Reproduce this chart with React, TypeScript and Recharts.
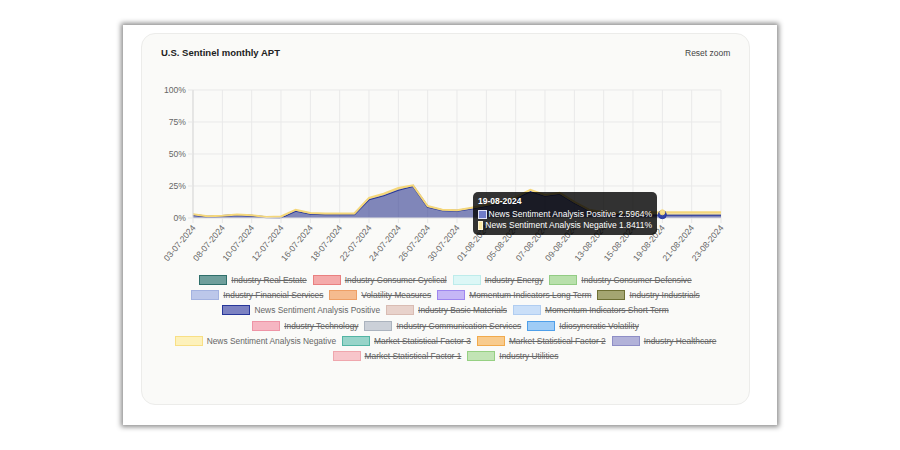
import React from 'react';
import { AreaChart, Area, XAxis, YAxis, CartesianGrid, Tooltip, Legend } from 'recharts';

const dates = ['03-07-2024','05-07-2024','08-07-2024','09-07-2024','10-07-2024','11-07-2024','12-07-2024','15-07-2024','16-07-2024','17-07-2024','18-07-2024','19-07-2024','22-07-2024','23-07-2024','24-07-2024','25-07-2024','26-07-2024','29-07-2024','30-07-2024','31-07-2024','01-08-2024','02-08-2024','05-08-2024','06-08-2024','07-08-2024','08-08-2024','09-08-2024','12-08-2024','13-08-2024','14-08-2024','15-08-2024','16-08-2024','19-08-2024','20-08-2024','21-08-2024','22-08-2024','23-08-2024'];

const tickDates = ['03-07-2024','08-07-2024','10-07-2024','12-07-2024','16-07-2024','18-07-2024','22-07-2024','24-07-2024','26-07-2024','30-07-2024','01-08-2024','05-08-2024','07-08-2024','09-08-2024','13-08-2024','15-08-2024','19-08-2024','21-08-2024','23-08-2024'];

const positive = [2.6,1.0,1.5,2.4,1.8,0.5,0.4,5.6,3.4,3.0,3.0,3.0,14.6,17.8,22.0,25.0,8.7,6.0,5.6,7.5,9.6,12.0,15.5,21.0,17.4,19.0,12.0,6.0,4.0,3.2,2.9,2.7,2.5964,2.6,2.6,2.6,2.6];
const negative = [0.4,0.3,0.3,0.3,0.3,0.2,0.8,0.9,0.5,0.6,0.6,0.6,1.2,1.2,1.4,0.5,0.6,0.5,0.4,0.5,0.5,0.6,0.8,1.0,0.6,0.6,0.6,0.5,0.5,0.5,0.5,1.5,1.8411,1.8,1.8,1.8,1.8];

const yTicks = [0, 25, 50, 75, 100];

const POS = 'News Sentiment Analysis Positive';
const NEG = 'News Sentiment Analysis Negative';

const legendNames = ['Industry Real Estate','Industry Consumer Cyclical','Industry Energy','Industry Consumer Defensive','Industry Financial Services','Volatility Measures','Momentum Indicators Long Term','Industry Industrials',POS,'Industry Basic Materials','Momentum Indicators Short Term','Industry Technology','Industry Communication Services','Idiosyncratic Volatility',NEG,'Market Statistical Factor 3','Market Statistical Factor 2','Industry Healthcare','Market Statistical Factor 1','Industry Utilities'];
const legendFills = ['#6f9f9c','#f4aaaa','#dcf7f6','#b8e0ab','#bcc7ea','#f5bb8f','#c5b6f6','#a4a672','#7c82c2','#e8d2cb','#cadff8','#f6b6c2','#cbd0d8','#9fccf6','#fdf1bb','#98d4c9','#f8cb8d','#b2b2d9','#f7c5ca','#c2e4b5'];
const legendStrokes = ['#2f6f6b','#e98080','#bdeceb','#92cc84','#a3b2e0','#ee9f66','#9e86ef','#6e7034','#27379a','#d9bcb3','#b0cdf1','#ee94a6','#abb3be','#4f9fe9','#f8df85','#53b5a4','#f1aa4c','#8e8ec6','#efa6ad','#96d083'];
const visibleSeries = [POS, NEG];
const legendRowSizes = [4, 4, 3, 3, 4, 2];

const data = dates.map((d, i) => ({ date: d, pos: positive[i], neg: negative[i] }));

const FONT = '"Liberation Sans", Arial, Helvetica, sans-serif';

const XTick = (props: any) => {
  const { x, y, payload } = props;
  const ax = x + 3;
  const ay = y + 3;
  return (
    <text x={ax} y={ay} transform={`rotate(-50 ${ax} ${ay})`} textAnchor="end" fontSize={8.6} fill="#666" fontFamily={FONT}>
      {payload.value}
    </text>
  );
};

const TooltipBox = (props: any) => {
  const { active, payload, label } = props;
  if (!active || !payload || !payload.length) return null;
  const sq: Record<string, [string, string]> = { pos: ['#6f7cc8', '#dfe2f5'], neg: ['#fbe9a6', '#fff6d6'] };
  return (
    <div style={{ background: 'rgba(0,0,0,0.8)', borderRadius: 5, padding: '4px 5px', color: '#fff', fontFamily: FONT, fontSize: 8.5, width: 184, boxSizing: 'border-box' }}>
      <div style={{ fontWeight: 'bold', lineHeight: '10px', marginBottom: 3 }}>{label}</div>
      {payload.map((p: any) => (
        <div key={p.dataKey} style={{ display: 'flex', alignItems: 'center', lineHeight: '11px', whiteSpace: 'nowrap' }}>
          <span style={{ display: 'inline-block', width: 7, height: 7, background: sq[p.dataKey][0], border: `1px solid ${sq[p.dataKey][1]}`, marginRight: 2 }} />
          <span>{p.name} {Number(p.value).toFixed(4)}%</span>
        </div>
      ))}
    </div>
  );
};

const renderLegend = () => {
  const rows: number[][] = [];
  let k = 0;
  legendRowSizes.forEach((n) => {
    const r: number[] = [];
    for (let j = 0; j < n; j++) r.push(k++);
    rows.push(r);
  });
  return (
    <div style={{ width: 609, fontFamily: FONT, fontSize: 8.4, color: '#666' }}>
      {rows.map((r, ri) => (
        <div key={ri} style={{ display: 'flex', justifyContent: 'center', alignItems: 'center', height: 15.3 }}>
          {r.map((idx) => {
            const name = legendNames[idx];
            const hidden = !visibleSeries.includes(name);
            return (
              <div key={name} style={{ display: 'flex', alignItems: 'center', margin: '0 3px' }}>
                <span style={{ display: 'inline-block', width: 26, height: 8, background: legendFills[idx], border: `1.5px solid ${legendStrokes[idx]}`, marginRight: 4 }} />
                <span style={{ textDecoration: hidden ? 'line-through' : 'none', whiteSpace: 'nowrap' }}>{name}</span>
              </div>
            );
          })}
        </div>
      ))}
    </div>
  );
};

export default function App() {
  return (
    <div style={{ position: 'fixed', left: 0, top: 0, width: 900, height: 450, background: '#ffffff', overflow: 'hidden' }}>
      <div style={{ position: 'absolute', left: 123, top: 25, width: 654, height: 400, background: '#ffffff', boxShadow: '0 0 5px 2px rgba(0,0,0,0.45)' }} />
      <div style={{ position: 'absolute', left: 141, top: 33, width: 607, height: 370, background: '#fafaf8', border: '1px solid #ececea', borderRadius: 14 }} />
      <div style={{ position: 'absolute', left: 161, top: 46, fontFamily: FONT, fontWeight: 'bold', fontSize: 9.5, color: '#222', lineHeight: '14px' }}>U.S. Sentinel monthly APT</div>
      <div style={{ position: 'absolute', left: 685, top: 47, fontFamily: FONT, fontSize: 8.5, color: '#444', lineHeight: '12px' }}>Reset zoom</div>
      <div style={{ position: 'absolute', left: 141, top: 33 }}>
        <AreaChart width={609} height={372} data={data} margin={{ top: 57, right: 29, left: 12, bottom: 137 }}>
          <CartesianGrid stroke="#e9e9e9" />
          <XAxis
            dataKey="date"
            ticks={tickDates}
            interval={0}
            tick={<XTick />}
            tickLine={{ stroke: '#e6e6e6' }}
            tickSize={5}
            axisLine={{ stroke: '#e6e6e6' }}
            height={50}
          />
          <YAxis
            domain={[0, 100]}
            ticks={yTicks}
            tickFormatter={(v: number) => `${v}%`}
            tick={{ fontSize: 8.6, fill: '#666', fontFamily: FONT }}
            tickLine={{ stroke: '#e6e6e6' }}
            tickSize={5}
            tickMargin={2}
            axisLine={{ stroke: '#d9d9d9' }}
            width={40}
          />
          <Tooltip
            content={<TooltipBox />}
            defaultIndex={32}
            active={true}
            position={{ x: 332, y: 159 }}
            cursor={false}
            isAnimationActive={false}
            wrapperStyle={{ outline: 'none' }}
          />
          <Legend
            content={renderLegend}
            layout="horizontal"
            verticalAlign="middle"
            align="center"
            wrapperStyle={{ top: 239, left: 0, width: 609 }}
          />
          <Area
            type="linear"
            dataKey="pos"
            name={POS}
            stackId="a"
            stroke="#27379a"
            strokeWidth={2}
            fill="#28328c"
            fillOpacity={0.58}
            dot={false}
            activeDot={{ r: 4, fill: '#3345a8', stroke: '#27379a', strokeWidth: 1 }}
            isAnimationActive={false}
          />
          <Area
            type="linear"
            dataKey="neg"
            name={NEG}
            stackId="a"
            stroke="#f5d77a"
            strokeWidth={2}
            fill="#fbe7a0"
            fillOpacity={0.8}
            dot={false}
            activeDot={{ r: 2.5, fill: '#f8e08a', stroke: '#f5d77a', strokeWidth: 1 }}
            isAnimationActive={false}
          />
        </AreaChart>
      </div>
    </div>
  );
}
